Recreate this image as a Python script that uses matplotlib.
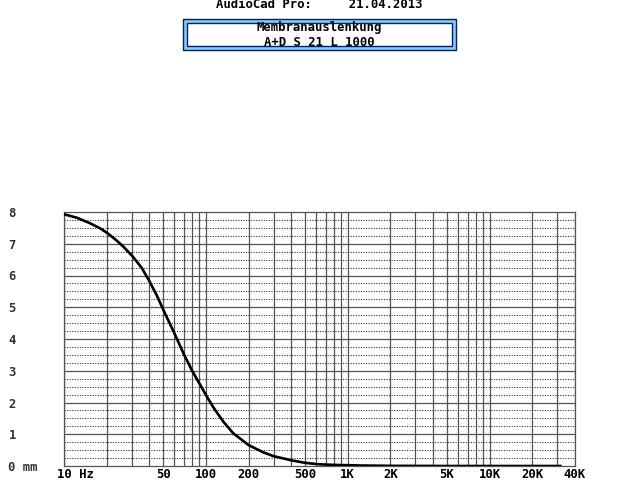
import matplotlib.pyplot as plt
import matplotlib.transforms as mtransforms
from matplotlib.patches import Rectangle

# excursion in mm
freq_hz = [10, 12.3, 15.2, 17.9, 20.3, 23.5, 26.2, 30.5, 35.3, 40, 45, 50,
           60, 70, 80, 90.8, 100.6, 112.8, 132.6, 156, 200, 254, 300, 400,
           500, 620, 800, 1000, 1250, 1600, 2000, 5000, 10000, 20000, 31500]
excursion_mm = [7.93, 7.82, 7.65, 7.49, 7.33, 7.10, 6.91, 6.60, 6.24, 5.82,
                5.38, 4.93, 4.18, 3.52, 3.00, 2.57, 2.22, 1.85, 1.40, 1.03,
                0.66, 0.43, 0.31, 0.18, 0.10, 0.055, 0.035, 0.025, 0.015,
                0.01, 0.005, 0.0, 0.0, 0.0, 0.0]

x_ticks = [10, 50, 100, 200, 500, 1000, 2000, 5000, 10000, 20000, 40000]
x_labels = ['10 Hz', '50', '100', '200', '500', '1K', '2K', '5K', '10K',
            '20K', '40K']
y_ticks = [0, 1, 2, 3, 4, 5, 6, 7, 8]
y_labels = ['0 mm', '1', '2', '3', '4', '5', '6', '7', '8']

title_text = 'AudioCad Pro:     21.04.2013'
box_line1 = 'Membranauslenkung'
box_line2 = 'A+D S 21 L 1000'

FONT = dict(family='DejaVu Sans Mono', weight='bold', size=8.8)
W, H = 640, 480

fig = plt.figure(figsize=(6.4, 4.8), dpi=100)
ax = fig.add_axes([64 / W, 1 - 466 / H, (575 - 64) / W, (466 - 212) / H])

ax.set_xscale('log')
ax.set_xlim(10, 40000)
ax.set_ylim(0, 8)

# grid lines
minor_x = [m * 10 ** e for e in range(1, 5) for m in range(1, 10)
           if 10 <= m * 10 ** e <= 40000]
for xv in minor_x:
    ax.axvline(xv, color='#555555', lw=0.9, zorder=1)
for yv in range(1, 8):
    ax.axhline(yv, color='#555555', lw=0.9, zorder=1)
for yv in [i / 4 for i in range(32) if i % 4]:
    ax.axhline(yv, color='#333333', lw=0.8, ls=(0, (1, 1.3)), zorder=1)

ax.plot(freq_hz, excursion_mm, color='black', lw=1.9, zorder=3,
        solid_joinstyle='round')

for s in ax.spines.values():
    s.set_color('#555555')
    s.set_linewidth(0.9)

ax.minorticks_off()
ax.set_xticks(x_ticks)
ax.set_xticklabels(x_labels, **FONT)
ax.set_yticks(y_ticks)
ax.set_yticklabels(y_labels, **FONT, color='#333333', ha='left')
ax.tick_params(axis='both', length=0)
ax.tick_params(axis='x', pad=1.5)
ax.tick_params(axis='y', pad=40)

# "10 Hz" starts just left of the axis like the reference
xl = ax.get_xticklabels()
xl[0].set_ha('left')
offset = mtransforms.ScaledTranslation(-7 / 100, 0, fig.dpi_scale_trans)
xl[0].set_transform(xl[0].get_transform() + offset)

# header
fig.text(319.5 / W, 1 - 5 / H, title_text, ha='center', va='center', **FONT)
fig.patches.append(Rectangle((183 / W, 1 - 50 / H), 273 / W, 31 / H,
                             transform=fig.transFigure, facecolor='#80d0ff',
                             edgecolor='#002060', lw=1.0))
fig.patches.append(Rectangle((187 / W, 1 - 46 / H), 265 / W, 23 / H,
                             transform=fig.transFigure, facecolor='white',
                             edgecolor='#002060', lw=1.0))
fig.text(319.5 / W, 1 - 27.5 / H, box_line1, ha='center', va='center', **FONT)
fig.text(319.5 / W, 1 - 43 / H, box_line2, ha='center', va='center', **FONT)

fig.savefig('out.png', dpi=100)
